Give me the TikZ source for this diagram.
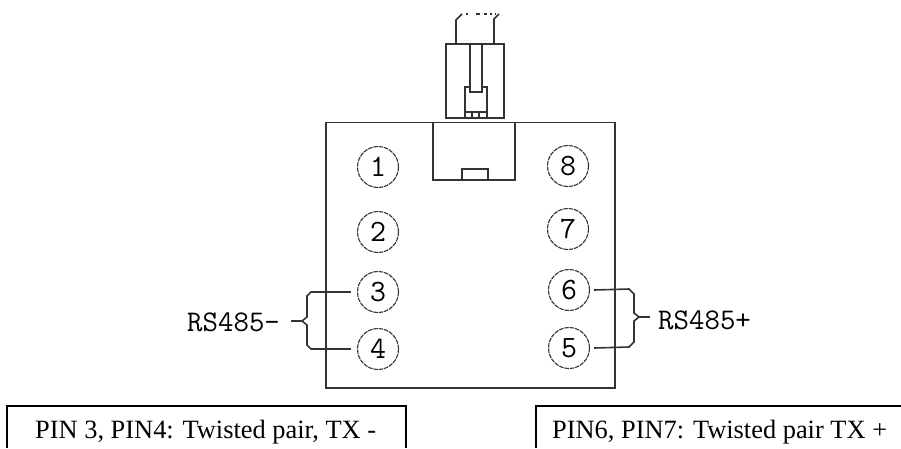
\documentclass[tikz,border=0pt]{standalone}
\usepackage{fontspec}
\setmainfont{Liberation Serif}
\usepackage{tikz}
\usetikzlibrary{positioning}

\definecolor{linegray}{gray}{0.2}

\tikzset{
    part/.style={draw=linegray,line width=1.6pt},
    frame/.style={draw=black,line width=2pt},
    pin/.style={circle,draw=linegray,line width=1.1pt,dash pattern=on 4.5pt off 0.9pt,minimum size=41pt,inner sep=0pt,font=\fontsize{31}{31}\ttfamily},
    bus/.style={font=\fontsize{30}{30}\ttfamily,inner sep=0pt,anchor=base west},
    note/.style={font=\fontsize{26.4}{30}\selectfont,inner sep=0pt,anchor=base west},
}

\begin{document}
\begin{tikzpicture}[x=1pt,y=-1pt]
\useasboundingbox (0,0) rectangle (901,448);

% board and socket
\draw[part] (326,122.5) rectangle (615,388);
\draw[part] (433,122.5) -- (433,180) -- (515,180) -- (515,122.5);
\draw[part] (462,180) -- (462,169) -- (488,169) -- (488,180);

% plug
\draw[part] (446,44) rectangle (504,118);
\draw[part] (470,44) -- (470,92) -- (482,92) -- (482,44);
\draw[part] (465,118) -- (465,87) -- (470,87);
\draw[part] (482,87) -- (487,87) -- (487,118);
\draw[part] (465,112) -- (487,112);
\draw[part] (472,112) -- (472,118);
\draw[part] (479,112) -- (479,118);

% cable
\draw[part] (456,44) -- (456,20) -- (462,14);
\draw[part] (494,44) -- (494,19) -- (499,14);
\draw[part,dash pattern=on 1.5pt off 8pt on 4pt off 4pt on 3pt off 3pt on 2pt off 3pt] (466,14) -- (497,14);

\foreach \x/\y/\number in {378/167/1, 378/232/2, 378/292/3, 378/349/4, 569/348/5, 569/290/6, 568/229/7, 568/166/8} {
    \node[pin] (\number) at (\x,\y) {\number};
}

\node[bus] (rsminus) at (187,331) {RS485-};
\node[bus] (rsplus) at (658,329) {RS485+};

\coordinate (tipminus) at (302,321);
\coordinate (tipplus) at (639,317);

\draw[part] ([xshift=-6pt]3.west) -- (311,292) -- (307,296) -- (307,317) -- (tipminus) -- (307,325) -- (307,345) -- (311,349) -- ([xshift=-6pt]4.west);
\draw[part] (291,321) -- (tipminus);
\draw[part] ([xshift=4pt]6.east) -- (629,289) -- (634,294) -- (634,313) -- (tipplus) -- (634,321) -- (634,342) -- (629,347) -- ([xshift=4pt]5.east);
\draw[part] (tipplus) -- (650,317);

% notes at the bottom, cut off by the page
\draw[frame] (7,448) -- (7,406) -- (406,406) -- (406,448);
\draw[frame] (536,448) -- (536,406) -- (901,406);
\node[note] (noteminus) at (35,438) {PIN 3, PIN4: Twisted pair, TX -};
\node[note] (noteplus) at (552,438) {PIN6, PIN7: Twisted pair TX +};
\end{tikzpicture}
\end{document}
